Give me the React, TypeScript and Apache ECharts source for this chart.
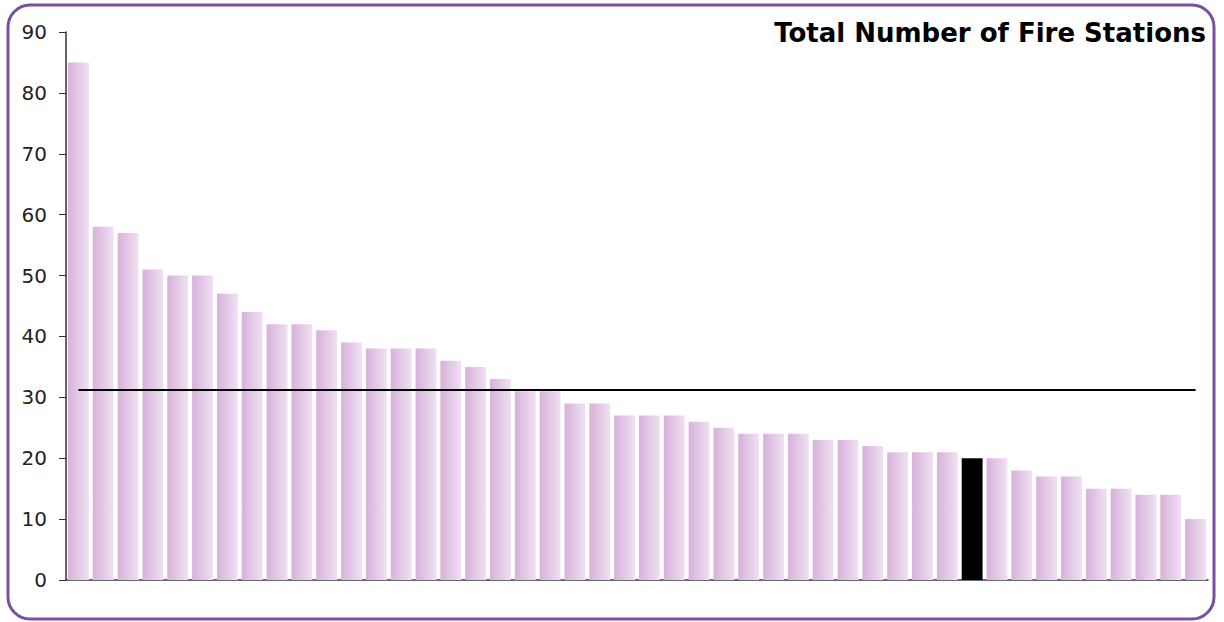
import React, { useEffect, useRef } from "react";
import * as echarts from "echarts";

const categories: string[] = Array.from({ length: 46 }, (_, i) => `Area ${i + 1}`);
const values: number[] = [
  85, 58, 57, 51, 50, 50, 47, 44, 42, 42, 41, 39, 38, 38, 38, 36, 35, 33, 31, 31,
  29, 29, 27, 27, 27, 26, 25, 24, 24, 24, 23, 23, 22, 21, 21, 21, 20, 20, 18, 17,
  17, 15, 15, 14, 14, 10,
];
const highlightIndex = 36;
const averageValue = 31.2;
const titleText = "Total Number of Fire Stations";

export default function App() {
  const ref = useRef<HTMLDivElement>(null);
  useEffect(() => {
    if (!ref.current) return;
    const chart = echarts.init(ref.current, null, { renderer: "svg" });
    const barGradient = new echarts.graphic.LinearGradient(0, 0, 1, 0, [
      { offset: 0, color: "#d8b1db" },
      { offset: 1, color: "#efe1f1" },
    ]);
    chart.setOption({
      animation: false,
      backgroundColor: "#ffffff",
      title: {
        text: titleText,
        right: 13,
        top: 15,
        textStyle: { fontFamily: "DejaVu Sans", fontSize: 26, fontWeight: "bold", color: "#000" },
      },
      graphic: [
        {
          type: "rect",
          shape: { x: 8, y: 5, width: 1206, height: 614, r: 22 },
          style: { fill: "none", stroke: "#7a4fa0", lineWidth: 3 },
          silent: true,
        },
      ],
      grid: { left: 66, right: 16, top: 32, bottom: 42 },
      xAxis: {
        type: "category",
        data: categories,
        axisLine: { show: true, lineStyle: { color: "#3a3a4a", width: 1.5 } },
        axisTick: { show: false },
        axisLabel: { show: false },
      },
      yAxis: {
        type: "value",
        min: 0,
        max: 90,
        interval: 10,
        splitLine: { show: false },
        axisLine: { show: true, lineStyle: { color: "#333", width: 1.5 } },
        axisTick: { show: true, length: 7, lineStyle: { color: "#333" } },
        axisLabel: { margin: 19, fontFamily: "DejaVu Sans", fontSize: 20, color: "#222" },
      },
      series: [
        {
          type: "bar",
          data: values.map((v, i) =>
            i === highlightIndex ? { value: v, itemStyle: { color: "#000000" } } : v
          ),
          barCategoryGap: "16%",
          itemStyle: { color: barGradient },
          markLine: {
            silent: true,
            symbol: "none",
            label: { show: false },
            lineStyle: { color: "#000", width: 2, type: "solid" },
            data: [
              [
                { xAxis: 0, yAxis: averageValue },
                { xAxis: categories.length - 1, yAxis: averageValue },
              ],
            ],
          },
        },
      ],
    });
    return () => chart.dispose();
  }, []);
  return (
    <div
      ref={ref}
      style={{ position: "fixed", left: 0, top: 0, width: 1224, height: 622 }}
    />
  );
}
